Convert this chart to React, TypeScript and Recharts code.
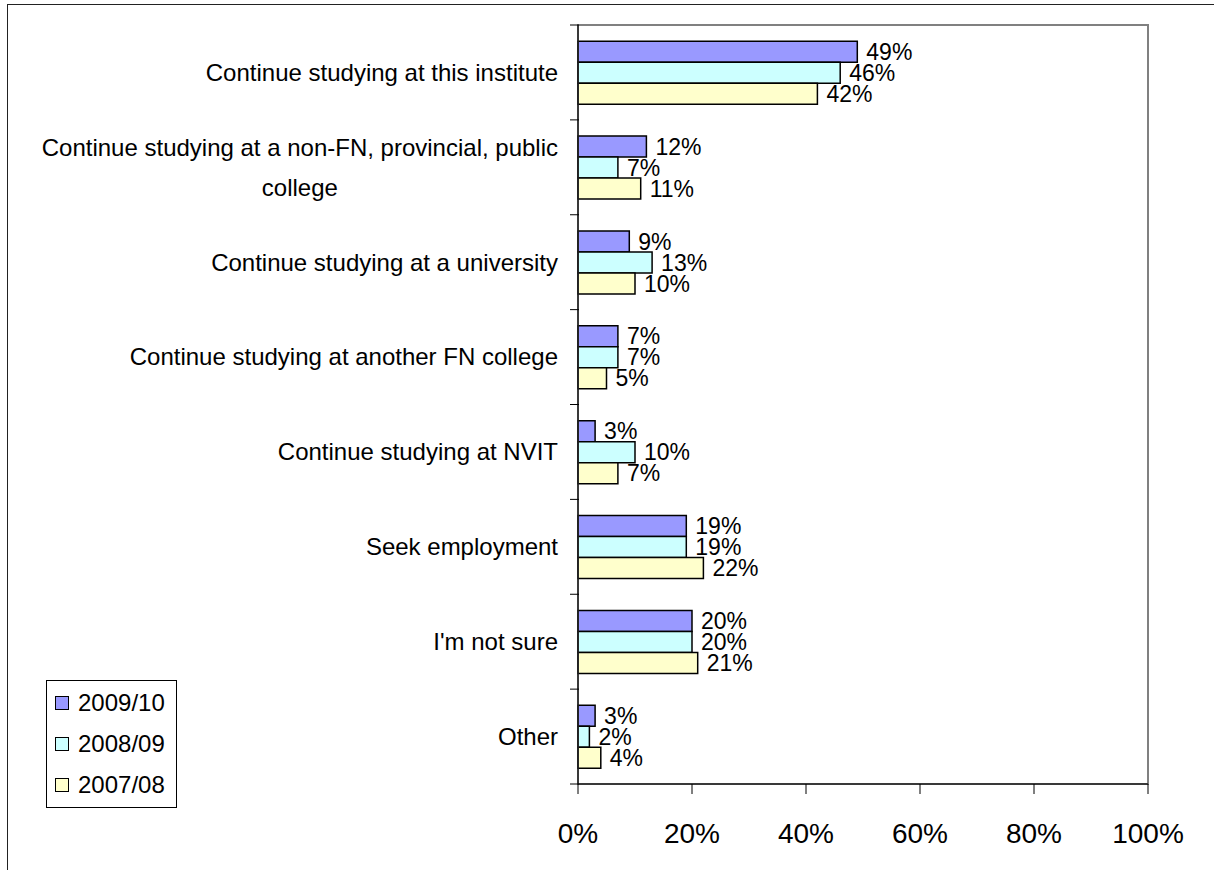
import React from 'react';
import { BarChart, Bar, XAxis, YAxis, LabelList, Legend, ReferenceArea } from 'recharts';

const categories = [
  'Continue studying at this institute',
  'Continue studying at a non-FN, provincial, public college',
  'Continue studying at a university',
  'Continue studying at another FN college',
  'Continue studying at NVIT',
  'Seek employment',
  "I'm not sure",
  'Other',
];
const v2009 = [49, 12, 9, 7, 3, 19, 20, 3];
const v2008 = [46, 7, 13, 7, 10, 19, 20, 2];
const v2007 = [42, 11, 10, 5, 7, 22, 21, 4];
const xTicks = [0, 20, 40, 60, 80, 100];

const series = [
  { key: 'y2009', name: '2009/10', color: '#9999FF' },
  { key: 'y2008', name: '2008/09', color: '#CCFFFF' },
  { key: 'y2007', name: '2007/08', color: '#FFFFCC' },
];

const data = categories.map((name, i) => ({
  name,
  y2009: v2009[i],
  y2008: v2008[i],
  y2007: v2007[i],
}));

const FONT = '"Liberation Sans", Arial, sans-serif';
const CAT_SIZE = 24;

// wrap long category names the way excel does
let ctx: CanvasRenderingContext2D | null = null;
const measure = (s: string) => {
  if (!ctx) ctx = document.createElement('canvas').getContext('2d');
  ctx!.font = `${CAT_SIZE}px ${FONT}`;
  return ctx!.measureText(s).width;
};
const wrap = (s: string, max: number) => {
  const words = s.split(' ');
  const lines: string[] = [];
  let cur = '';
  words.forEach((w) => {
    const t = cur ? cur + ' ' + w : w;
    if (cur && measure(t) > max) {
      lines.push(cur);
      cur = w;
    } else cur = t;
  });
  if (cur) lines.push(cur);
  return lines;
};

const CatTick = (props: any) => {
  const { x, y, payload, index } = props;
  const half = payload.offset || 47.4;
  const lines = wrap(payload.value, 545);
  const w = Math.max(...lines.map(measure));
  const ax = x + 21;
  const lh = 40;
  return (
    <g>
      <line x1={ax - 9} x2={ax} y1={y + half} y2={y + half} stroke="#000" />
      {index === 0 && <line x1={ax - 9} x2={ax} y1={y - half} y2={y - half} stroke="#000" />}
      {lines.map((l, i) => (
        <text
          key={i}
          x={lines.length > 1 ? x - w / 2 : x}
          y={y + (i - (lines.length - 1) / 2) * lh}
          dy="0.35em"
          textAnchor={lines.length > 1 ? 'middle' : 'end'}
          fontSize={CAT_SIZE}
          fontFamily={FONT}
          fill="#000"
        >
          {l}
        </text>
      ))}
    </g>
  );
};

const LegendBox = () => (
  <div
    style={{
      position: 'relative',
      width: 129,
      height: 126,
      border: '1px solid #000',
      background: '#fff',
      fontFamily: FONT,
      fontSize: 24,
      color: '#000',
    }}
  >
    {series.map((s, i) => (
      <div key={s.key} style={{ position: 'absolute', left: 8, top: 8 + i * 41, display: 'flex', alignItems: 'center' }}>
        <span style={{ width: 12, height: 12, border: '1.5px solid #000', background: s.color, display: 'inline-block', marginRight: 9 }} />
        <span style={{ lineHeight: '28px' }}>{s.name}</span>
      </div>
    ))}
  </div>
);

export default function App() {
  return (
    <div style={{ position: 'absolute', left: 0, top: 0, width: 1214, height: 870, background: '#fff' }}>
      <div
        style={{
          position: 'absolute',
          left: 7,
          top: 4,
          right: 0,
          bottom: 0,
          borderTop: '1.5px solid #222',
          borderLeft: '1.5px solid #222',
        }}
      />
      <BarChart
        width={1214}
        height={870}
        data={data}
        layout="vertical"
        margin={{ top: 25, right: 66, bottom: 0, left: 0 }}
        barCategoryGap="17%"
        barGap={0}
        style={{ position: 'absolute', left: 0, top: 0 }}
      >
        <ReferenceArea x1={0} x2={100} fill="none" stroke="#808080" strokeWidth={2} />
        <XAxis
          type="number"
          domain={[0, 100]}
          ticks={xTicks}
          tickFormatter={(v) => `${v}%`}
          height={86}
          tickSize={10}
          tickMargin={29}
          interval={0}
          stroke="#000"
          axisLine={{ stroke: '#222', strokeWidth: 1.5 }}
          tickLine={{ stroke: '#000' }}
          tick={{ fill: '#000', fontSize: 28, fontFamily: FONT }}
        />
        <YAxis
          type="category"
          dataKey="name"
          width={578}
          tickSize={10}
          tickMargin={10}
          interval={0}
          axisLine={{ stroke: '#222', strokeWidth: 1.5 }}
          tickLine={false}
          tick={<CatTick />}
        />
        <Legend
          layout="vertical"
          align="center"
          verticalAlign="middle"
          content={<LegendBox />}
          wrapperStyle={{ left: 46, top: 680, width: 131 }}
        />
        {series.map((s) => (
          <Bar key={s.key} dataKey={s.key} name={s.name} fill={s.color} stroke="#000" strokeWidth={1.5} isAnimationActive={false}>
            <LabelList
              dataKey={s.key}
              position="right"
              offset={9}
              formatter={(v: any) => `${v}%`}
              fill="#000"
              fontSize={23}
              fontFamily={FONT}
            />
          </Bar>
        ))}
      </BarChart>
    </div>
  );
}
